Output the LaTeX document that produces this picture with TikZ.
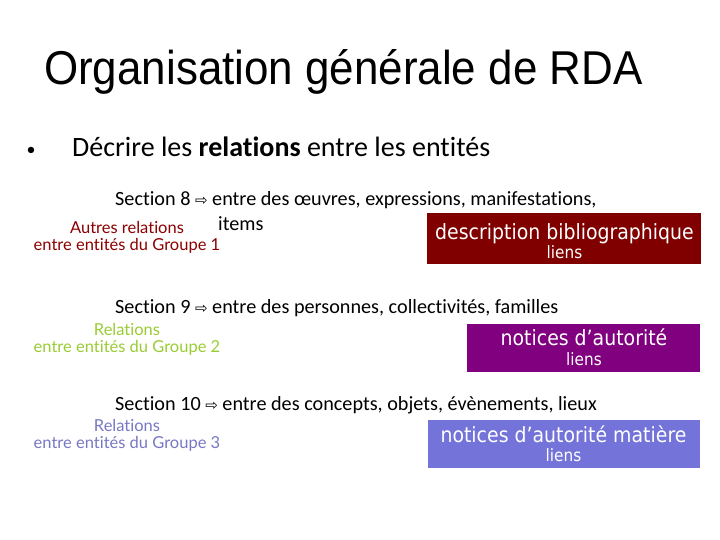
\documentclass[tikz,border=0pt]{standalone}
\usepackage{fontspec}
\setmainfont{Carlito}[Ligatures=NoCommon]
\newfontfamily\titlefont{Liberation Sans}
\newfontfamily\boxfont{DejaVu Sans}
\newfontfamily\symfont{DejaVu Sans}
\newfontfamily\notefont{Lato}[Ligatures=NoCommon]
\usepackage{xcolor}

\definecolor{grpone}{HTML}{8B0000}
\definecolor{grptwo}{HTML}{99CC33}
\definecolor{grpthree}{HTML}{7777C4}
\definecolor{boxone}{HTML}{800000}
\definecolor{boxtwo}{HTML}{800080}
\definecolor{boxthree}{HTML}{7373D9}

\newcommand{\fsz}[1]{\fontsize{#1}{1.1\dimexpr#1pt\relax}\selectfont}
\newcommand{\larr}{{\symfont\fsz{15}\char"21E8}}

\tikzset{
  sectline/.style={anchor=base west, font=\fsz{20.2}, inner sep=0},
  grplabel/.style={anchor=base, align=center, font=\notefont\fsz{16.5}, inner sep=0},
  relbox/.style={fill=#1, inner sep=0},
  boxtext/.style={anchor=base, text=white, align=center, inner sep=0, xscale=0.9, font=\boxfont\fsz{21}}
}

\begin{document}
\begin{tikzpicture}[x=1pt,y=-1pt]
\useasboundingbox (0,0) rectangle (720,540);

\node[anchor=base west, inner sep=0, xscale=0.925, font=\titlefont\fsz{47.5}] (title) at (44,85) {Organisation générale de RDA};

\node[anchor=base, inner sep=0, font=\fsz{18}] (bullet) at (31,156) {•};
\node[anchor=base west, inner sep=0, font=\fsz{28}] (intro) at (72,157) {Décrire les \textbf{relations} entre les entités};

% section 8
\node[sectline] (s8) at (115,206) {Section 8 \larr{} entre des œuvres, expressions, manifestations,};
\node[sectline] (s8b) at (218,230) {items};
\node[grplabel, text=grpone] (g1) at (127,250) {Autres relations\\[-2pt]entre entités du Groupe 1};
\node[relbox=boxone, minimum width=274, minimum height=51] (b1) at (564,238.8) {};
\node[boxtext] (t1) at (564.5,258.3) {description bibliographique\\[-4pt]{\fsz{17}liens}};

% section 9
\node[sectline] (s9) at (115,313) {Section 9 \larr{} entre des personnes, collectivités, familles};
\node[grplabel, text=grptwo] (g2) at (127,352) {Relations\\[-2pt]entre entités du Groupe 2};
\node[relbox=boxtwo, minimum width=233.5, minimum height=47.5] (b2) at (583.4,348) {};
\node[boxtext] (t2) at (584,365) {notices d’autorité\\[-4pt]{\fsz{17}liens}};

% section 10
\node[sectline] (s10) at (115,410) {Section 10 \larr{} entre des concepts, objets, évènements, lieux};
\node[grplabel, text=grpthree] (g3) at (127,448) {Relations\\[-2pt]entre entités du Groupe 3};
\node[relbox=boxthree, minimum width=271.7, minimum height=48.3] (b3) at (564.2,444.2) {};
\node[boxtext] (t3) at (563.5,461.7) {notices d’autorité matière\\[-4pt]{\fsz{17}liens}};
\end{tikzpicture}
\end{document}
